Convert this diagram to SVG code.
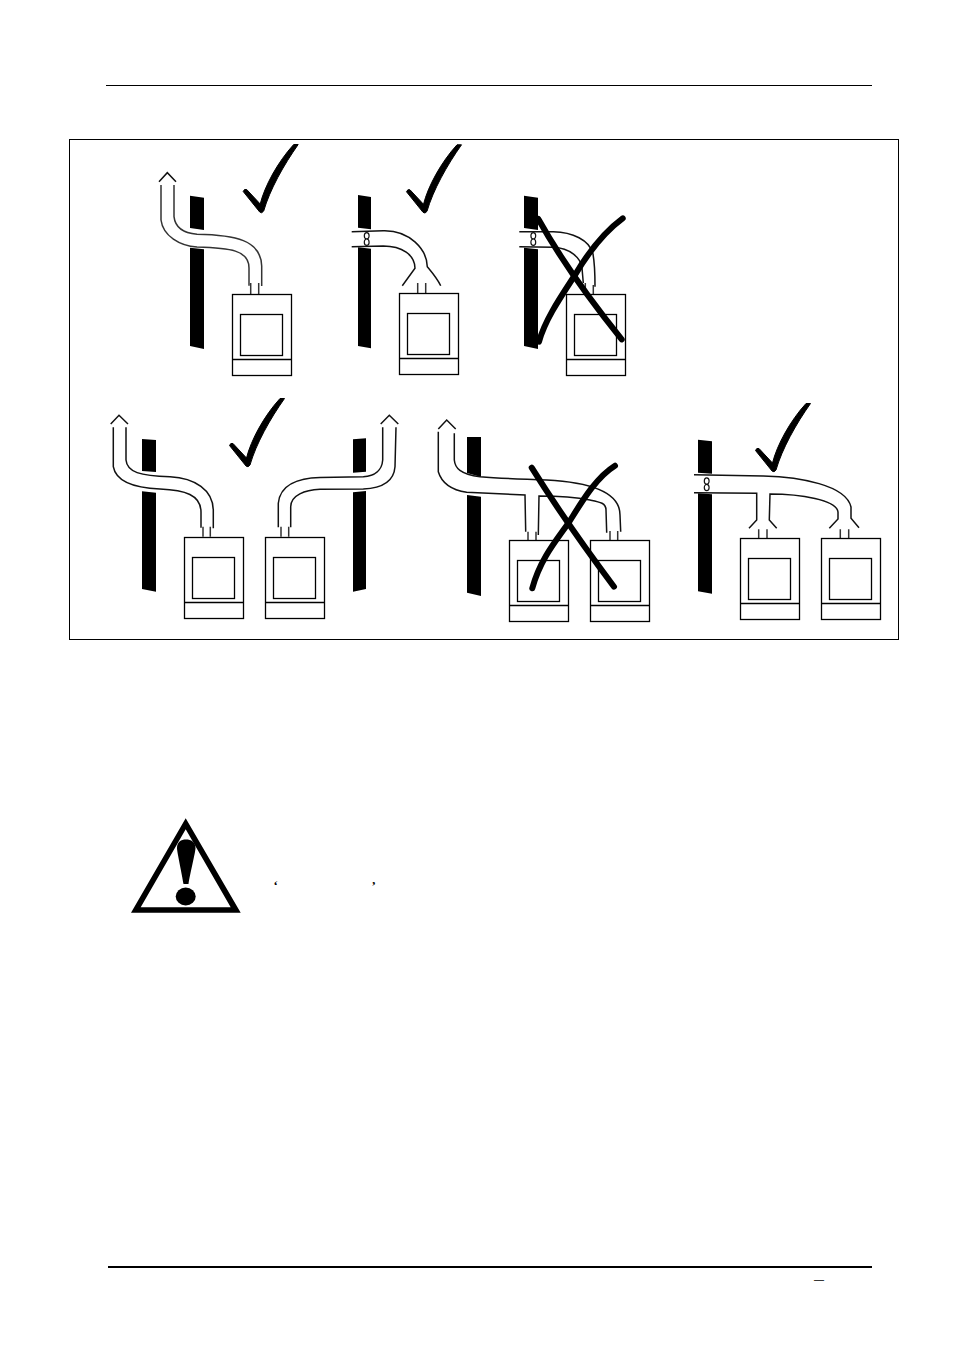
<svg xmlns="http://www.w3.org/2000/svg" xmlns:xlink="http://www.w3.org/1999/xlink" width="954" height="1350" viewBox="0 0 954 1350">
<style>
.b{fill:#fff;stroke:#000;stroke-width:1.3}
.f{fill:none;stroke:#111;stroke-width:1.5}
.s{fill:none;stroke:#333;stroke-width:1.5}
.w{fill:#000}
.t{fill:#000;stroke:#000;stroke-width:1;stroke-linejoin:round}
.x{fill:none;stroke:#000;stroke-width:6;stroke-linecap:round}
.e{fill:#fff;stroke:#111;stroke-width:1.2}
.q{font-family:"Liberation Serif",serif;font-size:13px;font-weight:bold;fill:#000}
</style>
<defs>
<g id="boiler"><rect class="b" x="0.5" y="0.5" width="59" height="81"/><rect class="b" x="8.5" y="20.5" width="42" height="41"/><line class="b" x1="0.5" y1="65.5" x2="59.5" y2="65.5"/></g>
<path id="tick" class="t" d="M-18.5,-20.5 Q-17.5,-23.5 -15,-22.5 L-1.5,-8 C3,-26 16,-50 32,-67.5 L36.5,-67.5 C22,-47 8,-22 2,-1 Q0,2 -2,0 Z"/>
<g id="eight"><ellipse class="e" cx="0" cy="-3.2" rx="2.4" ry="3.2"/><ellipse class="e" cx="0" cy="3.2" rx="2.4" ry="3.2"/></g>
</defs>
<rect width="954" height="1350" fill="#fff"/>
<g id="page">
<line x1="106" y1="85.5" x2="872" y2="85.5" stroke="#000" stroke-width="1"/>
<rect x="69.5" y="139.5" width="829" height="500" fill="none" stroke="#000" stroke-width="1"/>
<line x1="108" y1="1267" x2="872" y2="1267" stroke="#000" stroke-width="2"/>
<text class="q" x="814" y="1283" style="font-size:10px">—</text>
</g>
<g id="walls">
<path class="w" d="M190,195.7L204,197.7V230L190,228ZM190,247.7L204,249.3V349L190,346Z"/>
<path class="w" d="M358,195L371,197V229.3L358,227.7ZM358,247.3L371,248.7V348.3L358,346Z"/>
<path class="w" d="M524,195.7L538,197.7V230L524,228ZM524,247.7L538,249.3V349L524,346Z"/>
<path class="w" d="M142,439L156,440V472L142,471ZM142,491.3L156,492.7V591.7L142,589Z"/>
<path class="w" d="M353,439.3L366,438.3V471.7L353,472.7ZM353,492.3L366,491V589L353,591.7Z"/>
<path class="w" d="M467,437H481V477L467,473ZM467,495L481,496.7V596L467,592.7Z"/>
<path class="w" d="M698,439.7L712,441.3V473.7L698,472.7ZM698,493.3L712,494.3V593.7L698,591.3Z"/>
</g>
<g id="connectors">
<g id="flue1">
<path class="f" d="M159,181.7L167.3,172.7L176,181.7"/>
<path class="s" d="M161,185V220C163,236 180,246 197,247C230,248 249,250 249,268V285.7"/>
<path class="s" d="M174,185V216.7C175,226 182,233 197,234.3C235,235 261,240 261.7,266V286"/>
<path class="s" d="M250.7,283V294M258.7,283V294"/>
</g>
<g id="flue2">
<path class="f" d="M351.7,231.7L383.3,230.7C410,230 427,250 427.3,266.7C430,270 437,278 440.7,285.7"/>
<path class="f" d="M351.7,246.7L383.3,246C402,246 415,255 415,268.3L402.3,285.7"/>
<path class="s" d="M417.7,283V294M425.7,283V294"/>
</g>
<g id="flue3">
<path class="f" d="M519.3,231.7H553.3C572,232 590,240 593,254C595,265 595,275 595,286.7"/>
<path class="f" d="M519.3,246.7L553.3,247.3C570,248 581,258 582,268L583.3,283"/>
<path class="s" d="M585.3,283V294M593.3,285V294"/>
</g>
<g id="flue4">
<path class="f" d="M110.7,424L119,415.3L128,424"/>
<path class="f" d="M113.3,427.3V466.7C116,482 135,488 160,489C185,490 201,495 201,512V527.7"/>
<path class="f" d="M126,427.3V460C127,472 140,476 170,476.7C195,478 213,490 213.3,510V528.3"/>
<path class="s" d="M203,526.7V536.7M210.3,526.7V536.7"/>
</g>
<g id="flue5">
<path class="f" d="M380.7,424L389.3,415.3L398.3,424"/>
<path class="f" d="M278.3,527.3V503.3C280,485 298,478 320,477.5L363.3,476.7C375,476 382,470 382.7,460V427.3"/>
<path class="f" d="M290.7,527.3V506.7C291,495 305,490 320,489.3L363.3,489C385,488 394,480 395,466.7L396,427.3"/>
<path class="s" d="M281,526.7V536.7M288.7,526.7V536.7"/>
</g>
<g id="flue6">
<path class="f" d="M438.3,429L446.7,420L455.7,429"/>
<path class="f" d="M438.3,431.7V471.7C442,484 452,490 466.7,492.3L525,495L525.7,531.7"/>
<path class="f" d="M454.3,433.3V460C455,468 460,474 480,476.7C505,479 525,479 546.7,480C585,482 620,490 620,515L620.7,531.7"/>
<path class="f" d="M538.3,535L539,496C560,496 580,498 590,500C600,502 606,503 606,510L606.7,532.7"/>
<path class="s" d="M528,531.7V540.3M536,531.7V540.3M610,531V540.3M617.7,531V540.3"/>
</g>
<g id="flue7">
<path class="f" d="M694,474.7L763.3,476C800,477 846,485 851,507V518.3L859,527.7"/>
<path class="f" d="M694,492.7L756.7,493.3V520L749,528.3"/>
<path class="f" d="M776.7,528.3L769.3,520L770,494C800,494 837,500 838,512V519L829.3,528.3"/>
<path class="s" d="M758.7,529.3V538.3M767,529.3V538.3M840.3,529.3V538.3M848.7,529.3V538.3"/>
</g>
<use href="#eight" x="366.7" y="239"/>
<use href="#eight" x="533.3" y="239"/>
<use href="#eight" x="706.7" y="484.3"/>
</g>
<g id="boiler1"><use href="#boiler" x="232" y="294"/></g>
<g id="boiler2"><use href="#boiler" x="399" y="293"/></g>
<g id="boiler3"><use href="#boiler" x="566" y="294"/></g>
<g id="boiler4"><use href="#boiler" x="184" y="537"/></g>
<g id="boiler5"><use href="#boiler" x="265" y="537"/></g>
<g id="boiler6"><use href="#boiler" x="509" y="540"/></g>
<g id="boiler7"><use href="#boiler" x="590" y="540"/></g>
<g id="boiler8"><use href="#boiler" x="740" y="538"/></g>
<g id="boiler9"><use href="#boiler" x="821" y="538"/></g>
<g id="marks">
<use href="#tick" x="261.7" y="212"/>
<use href="#tick" x="425" y="212.3"/>
<use href="#tick" x="248" y="466"/>
<use href="#tick" x="774" y="471"/>
<path class="x" d="M538.3,219C560,258 590,300 621.7,339.3"/>
<path class="x" d="M622.7,218.3C600,235 585,258 575,275C560,298 545,320 539,341.7"/>
<path class="x" d="M531.7,467.7C555,505 585,548 614,586.7"/>
<path class="x" d="M615,465.7C595,478 580,505 568.3,523.3C555,542 540,560 532.3,588.3"/>
</g>
<g id="warning">
<path fill="#000" fill-rule="evenodd" d="M185.7,818.3L240.7,912.7H131ZM185.7,829.3L140.7,907.3H230.7Z"/>
<path fill="#000" d="M177,848C177,842 181,839.5 186,839.5C191,839.5 195.5,842 195.5,848C195.5,852 190,874 188.5,884H183.5C182,874 177,852 177,848Z"/>
<ellipse cx="185.7" cy="896.5" rx="10" ry="9" fill="#000"/>
<text class="q" x="273.5" y="890">‘</text>
<text class="q" x="371.5" y="890">’</text>
</g>
</svg>
